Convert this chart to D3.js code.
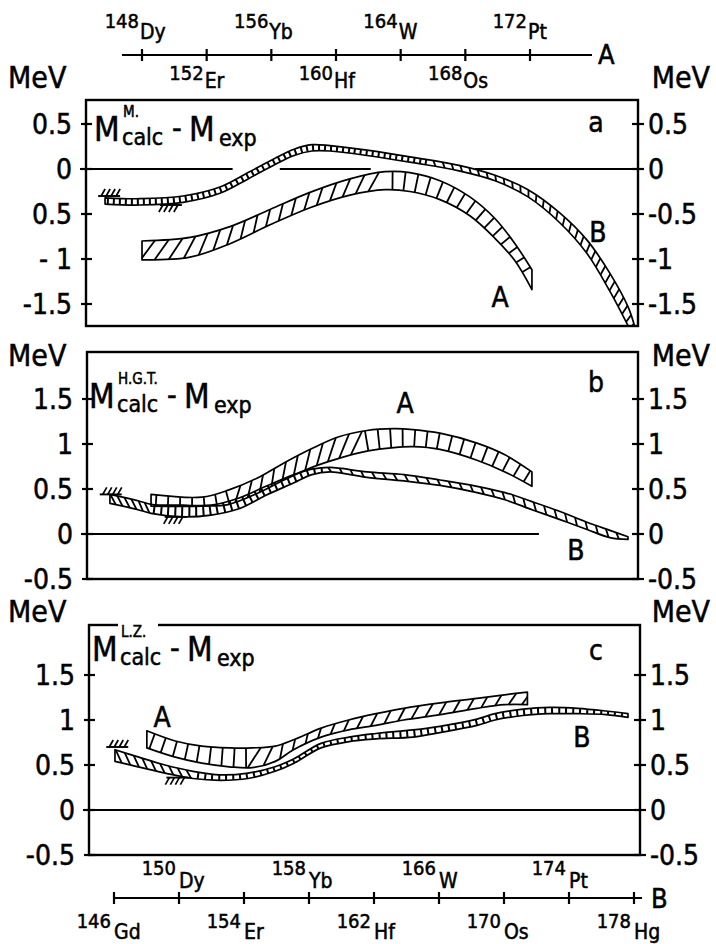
<!DOCTYPE html>
<html>
<head>
<meta charset="utf-8">
<script src="https://cdn.jsdelivr.net/npm/d3@7"></script>
<style>
  html, body { margin: 0; padding: 0; background: #fff; }
  svg text { font-family: "DejaVu Sans Condensed", "DejaVu Sans", sans-serif; fill: #000; stroke: #000; stroke-width: 0.5px; }
</style>
</head>
<body>
<svg id="chart" width="716" height="944"></svg>
<script>
// ---- isotope chains used as the two horizontal scales ----
const chainA = [148, 152, 156, 160, 164, 168, 172];
const chainAEl = ["Dy", "Er", "Yb", "Hf", "W", "Os", "Pt"];
const chainB = [146, 150, 154, 158, 162, 166, 170, 174, 178];
const chainBEl = ["Gd", "Dy", "Er", "Yb", "Hf", "W", "Os", "Pt", "Hg"];

// ---- MeV ticks and printed labels ----
const ticksA = [0.5, 0, -0.5, -1, -1.5];
const ticksALeft = ["0.5", "0", "0.5", "- 1", "-1.5"];
const ticksARight = ["0.5", "0", "-0.5", "-1", "-1.5"];
const ticksBC = [1.5, 1, 0.5, 0, -0.5];
const ticksBLeft = ["1.5", "1", "0.5", "0", "-0.5"];
const ticksCLeft = ["1.5", "1", "0.5", "0", "-0.5"];
const ticksBCRight = ["1.5", "1", "0.5", "0", "-0.5"];

// ---- panel a (M.) : band A on chain A, band B on chain B ----
const aA_mass = [148.0, 150.97, 153.44, 155.92, 158.39, 160.86, 163.03, 164.57, 166.43, 168.28, 169.83, 171.07, 172.12];
const aA_hi   = [-0.80, -0.76, -0.64, -0.45, -0.26, -0.11, -0.03, -0.04, -0.13, -0.31, -0.55, -0.83, -1.12];
const aA_lo   = [-1.01, -0.98, -0.83, -0.62, -0.43, -0.29, -0.23, -0.25, -0.34, -0.52, -0.77, -1.02, -1.34];
const aB_mass = [145.45, 147.6, 150.25, 152.52, 154.25, 155.91, 157.08, 158.18, 159.29, 161.57, 164.40, 167.23, 169.45, 171.48, 173.45, 175.11, 176.52, 177.63, 178.06];
const aB_hi   = [-0.32, -0.33, -0.30, -0.20, -0.04, 0.12, 0.22, 0.27, 0.26, 0.21, 0.13, 0.04, -0.07, -0.23, -0.49, -0.79, -1.16, -1.53, -1.76];
const aB_lo   = [-0.39, -0.40, -0.37, -0.27, -0.11, 0.05, 0.15, 0.20, 0.20, 0.15, 0.07, -0.02, -0.13, -0.31, -0.60, -0.94, -1.36, -1.74, -1.90];

// ---- panel b (H.G.T.) ----
const bA_mass = [148.56, 151.71, 153.38, 155.11, 156.78, 158.51, 160.18, 161.91, 163.58, 164.76, 166.43, 168.72, 170.45, 172.12];
const bA_hi   = [0.44, 0.41, 0.49, 0.62, 0.79, 0.95, 1.08, 1.15, 1.17, 1.16, 1.12, 1.01, 0.88, 0.69];
const bA_lo   = [0.31, 0.31, 0.33, 0.45, 0.60, 0.74, 0.84, 0.92, 0.96, 0.97, 0.94, 0.82, 0.69, 0.53];
const bB_mass = [145.75, 147.48, 148.28, 150.25, 151.97, 153.69, 155.35, 157.08, 158.18, 159.29, 161.57, 163.85, 166.06, 168.34, 170.06, 171.72, 173.45, 175.11, 176.52, 177.63];
const bB_hi   = [0.44, 0.37, 0.33, 0.32, 0.32, 0.40, 0.53, 0.66, 0.72, 0.74, 0.69, 0.66, 0.60, 0.53, 0.46, 0.36, 0.25, 0.13, 0.04, -0.03];
const bB_lo   = [0.34, 0.27, 0.23, 0.19, 0.21, 0.28, 0.43, 0.57, 0.66, 0.69, 0.63, 0.59, 0.54, 0.46, 0.38, 0.27, 0.16, 0.05, -0.04, -0.06];

// ---- panel c (L.Z.) ----
const cA_mass = [148.30, 150.00, 151.70, 153.40, 154.82, 156.24, 157.37, 159.08, 160.78, 162.48, 164.18, 166.45, 168.72, 170.42, 171.84];
const cA_hi   = [0.88, 0.77, 0.71, 0.69, 0.69, 0.71, 0.78, 0.91, 1.00, 1.07, 1.13, 1.19, 1.24, 1.28, 1.31];
const cA_lo   = [0.69, 0.59, 0.52, 0.48, 0.47, 0.54, 0.67, 0.81, 0.89, 0.94, 1.00, 1.06, 1.13, 1.17, 1.17];
const cB_mass = [146.06, 147.48, 149.14, 150.86, 152.52, 154.25, 155.91, 157.08, 158.74, 160.46, 162.12, 164.40, 166.06, 168.34, 169.45, 171.17, 172.83, 174.55, 176.28, 177.63];
const cB_hi   = [0.67, 0.59, 0.50, 0.43, 0.39, 0.41, 0.48, 0.57, 0.74, 0.81, 0.85, 0.89, 0.93, 1.01, 1.07, 1.12, 1.14, 1.13, 1.10, 1.07];
const cB_lo   = [0.54, 0.48, 0.41, 0.35, 0.33, 0.35, 0.43, 0.52, 0.69, 0.76, 0.79, 0.81, 0.86, 0.94, 1.00, 1.05, 1.07, 1.07, 1.06, 1.03];

// hatched limit markers: [mass on chain B, MeV, side(-1 above / +1 below)]
const aMarks = [[145.7, -0.30, -1], [149.5, -0.40, 1]];
const bMarks = [[145.8, 0.44, -1], [149.8, 0.19, 1]];
const cMarks = [[146.2, 0.70, -1], [149.9, 0.36, 1]];

// gaps in the zero line of panel a (chain-B mass ranges)
const aZeroGaps = [[153.3, 156.2], [161.8, 168.2]];
const bZeroEnd = 172.15;

// ------------------------------------------------------------------
const svg = d3.select("#chart");
const xA = d3.scaleLinear().domain([148, 172]).range([142, 530]);
const xB = d3.scaleLinear().domain([146, 178]).range([114, 634]);
const tmp = svg.append("g").attr("visibility", "hidden");
const curve = d3.curveCatmullRom.alpha(0.5);
const INK = "#000";

function samplePath(d) {
  const p = tmp.append("path").attr("d", d);
  const n = p.node(), L = n.getTotalLength(), pts = [];
  for (let s = 0; s <= L; s += 0.7) { const q = n.getPointAtLength(s); pts.push([q.x, q.y]); }
  const q = n.getPointAtLength(L); pts.push([q.x, q.y]);
  p.remove();
  return pts;
}
function yAt(pts, x) {
  for (let i = 1; i < pts.length; i++) {
    const a = pts[i - 1], b = pts[i];
    if ((a[0] - x) * (b[0] - x) <= 0) {
      if (b[0] === a[0]) return a[1];
      return a[1] + (b[1] - a[1]) * (x - a[0]) / (b[0] - a[0]);
    }
  }
  return null;
}

let clipId = 0;
function band(g, xs, mass, hi, lo, y, hatches) {
  const rows = mass.map((m, i) => ({ m, hi: hi[i], lo: lo[i] }));
  const area = d3.area().x(d => xs(d.m)).y0(d => y(d.lo)).y1(d => y(d.hi)).curve(curve);
  const lineHi = d3.line().x(d => xs(d.m)).y(d => y(d.hi)).curve(curve);
  const lineLo = d3.line().x(d => xs(d.m)).y(d => y(d.lo)).curve(curve);
  const up = samplePath(lineHi(rows)), dn = samplePath(lineLo(rows));
  const id = "band" + (clipId++);
  svg.append("clipPath").attr("id", id).append("path").attr("d", area(rows));
  const hg = g.append("g").attr("clip-path", `url(#${id})`);
  hatches.forEach(h => {
    const x0 = xs(h.from), x1 = xs(h.to);
    const cs = [];
    for (let x = x0; x <= x1; x += 0.4) {
      const yu = yAt(up, x), yl = yAt(dn, x);
      if (yu == null || yl == null) continue;
      cs.push([x, (yu + yl) / 2, Math.abs(yl - yu)]);
    }
    let acc = h.spacing * 0.6;
    for (let i = 1; i < cs.length - 1; i++) {
      acc += Math.hypot(cs[i][0] - cs[i - 1][0], cs[i][1] - cs[i - 1][1]);
      if (acc < h.spacing) continue;
      acc -= h.spacing;
      let tx = cs[i + 1][0] - cs[i - 1][0], ty = cs[i + 1][1] - cs[i - 1][1];
      const tl = Math.hypot(tx, ty); tx /= tl; ty /= tl;
      const nx = ty, ny = -tx;               // normal pointing up
      const ph = h.tilt * Math.PI / 180;
      const dx = nx * Math.cos(ph) - ny * Math.sin(ph);
      const dy = nx * Math.sin(ph) + ny * Math.cos(ph);
      const half = cs[i][2] / Math.max(Math.cos(ph), 0.35) + 3;
      hg.append("line")
        .attr("x1", cs[i][0] - dx * half).attr("y1", cs[i][1] - dy * half)
        .attr("x2", cs[i][0] + dx * half).attr("y2", cs[i][1] + dy * half)
        .attr("stroke", INK).attr("stroke-width", h.width || 1.8);
    }
  });
  g.append("path").attr("d", area(rows)).attr("fill", "none")
    .attr("stroke", INK).attr("stroke-width", 1.7).attr("stroke-linejoin", "round");
}

function limitMark(g, x, y, side) {
  g.append("line").attr("x1", x - 11).attr("x2", x + 11).attr("y1", y).attr("y2", y)
    .attr("stroke", INK).attr("stroke-width", 1.9);
  for (let k = 0; k < 4; k++) {
    const sx = x - 8 + k * 5;
    g.append("line").attr("x1", sx).attr("y1", y)
      .attr("x2", sx + (side < 0 ? 4 : -4)).attr("y2", y + side * 7)
      .attr("stroke", INK).attr("stroke-width", 1.7);
  }
}

function title(g, x, base, sup) {
  g.append("text").attr("x", x).attr("y", base).attr("font-size", 33).text("M");
  g.append("text").attr("x", x + 29).attr("y", base - 24).attr("font-size", 15).text(sup);
  g.append("text").attr("x", x + 28).attr("y", base + 4).attr("font-size", 23).text("calc");
  g.append("text").attr("x", x + 78).attr("y", base - 3).attr("font-size", 30).text("-");
  g.append("text").attr("x", x + 95).attr("y", base).attr("font-size", 33).text("M");
  g.append("text").attr("x", x + 125).attr("y", base + 5).attr("font-size", 23).text("exp");
}

// ---- panels ----
const panels = [
  { key: "a", top: 100, bottom: 326, left: 86, right: 638, zeroY: 169,
    ticks: ticksA, leftLab: ticksALeft, rightLab: ticksARight,
    A: [aA_mass, aA_hi, aA_lo], B: [aB_mass, aB_hi, aB_lo], marks: aMarks,
    hatchA: [{ from: 148, to: 163.2, spacing: 14, tilt: 38 }, { from: 163.2, to: 172.2, spacing: 12, tilt: 0 }],
    hatchB: [{ from: 145.4, to: 165.5, spacing: 6, tilt: 0, width: 2 }, { from: 165.5, to: 178.1, spacing: 9, tilt: -30 }],
    sup: "M.", titleX: 94, titleBase: 141, letterY: 132,
    labA: [500, 307], labB: [598, 242], mevY: 88 },
  { key: "b", top: 352, bottom: 579, left: 87, right: 638, zeroY: 534,
    ticks: ticksBC, leftLab: ticksBLeft, rightLab: ticksBCRight,
    A: [bA_mass, bA_hi, bA_lo], B: [bB_mass, bB_hi, bB_lo], marks: bMarks,
    hatchA: [{ from: 148.5, to: 153.6, spacing: 12, tilt: 0 }, { from: 153.6, to: 161.6, spacing: 13, tilt: 38 }, { from: 161.6, to: 172.2, spacing: 12, tilt: 0 }],
    hatchB: [{ from: 145.7, to: 148.3, spacing: 7, tilt: -40 }, { from: 148.3, to: 159, spacing: 7, tilt: 0, width: 2 }, { from: 159, to: 177.7, spacing: 11, tilt: -35 }],
    sup: "H.G.T.", titleX: 89, titleBase: 408, letterY: 392,
    labA: [405, 413], labB: [576, 560], mevY: 366 },
  { key: "c", top: 625, bottom: 855, left: 89, right: 640, zeroY: 810,
    ticks: ticksBC, leftLab: ticksCLeft, rightLab: ticksBCRight,
    A: [cA_mass, cA_hi, cA_lo], B: [cB_mass, cB_hi, cB_lo], marks: cMarks,
    hatchA: [{ from: 148.3, to: 154.6, spacing: 12, tilt: 0 }, { from: 154.6, to: 171.9, spacing: 14, tilt: 38 }],
    hatchB: [{ from: 146.0, to: 151.0, spacing: 9, tilt: -40 }, { from: 151.0, to: 177.7, spacing: 7, tilt: 0, width: 2 }],
    sup: "L.Z.", titleX: 92, titleBase: 661, letterY: 660,
    labA: [162, 727], labB: [582, 747], mevY: 622 }
];

panels.forEach(p => {
  const g = svg.append("g");
  // MeV values of the frame edges follow from the 90 px per MeV spacing
  const y = d3.scaleLinear()
    .domain([(p.zeroY - p.bottom) / 90, (p.zeroY - p.top) / 90])
    .range([p.bottom, p.top]);

  const fid = "frame" + p.key;
  svg.append("clipPath").attr("id", fid).append("rect")
    .attr("x", p.left).attr("y", p.top).attr("width", p.right - p.left).attr("height", p.bottom - p.top);

  // zero line
  if (p.key === "a") {
    const xs0 = [p.left - 6, ...aZeroGaps.flat().map(m => xB(m)), p.right + 4];
    for (let i = 0; i < xs0.length; i += 2)
      g.append("line").attr("x1", xs0[i]).attr("x2", xs0[i + 1]).attr("y1", y(0)).attr("y2", y(0))
        .attr("stroke", INK).attr("stroke-width", 2.2);
  } else if (p.key === "b") {
    g.append("line").attr("x1", p.left - 6).attr("x2", xB(bZeroEnd)).attr("y1", y(0)).attr("y2", y(0))
      .attr("stroke", INK).attr("stroke-width", 2.2);
  } else {
    g.append("line").attr("x1", p.left - 6).attr("x2", p.right + 5).attr("y1", y(0)).attr("y2", y(0))
      .attr("stroke", INK).attr("stroke-width", 2.2);
  }

  const cg = g.append("g").attr("clip-path", `url(#${fid})`);
  band(cg, xB, p.B[0], p.B[1], p.B[2], y, p.hatchB);
  band(cg, xA, p.A[0], p.A[1], p.A[2], y, p.hatchA);
  p.marks.forEach(mk => limitMark(g, xB(mk[0]), y(mk[1]), mk[2]));

  // frame
  g.append("rect").attr("x", p.left).attr("y", p.top).attr("width", p.right - p.left)
    .attr("height", p.bottom - p.top).attr("fill", "none").attr("stroke", INK).attr("stroke-width", 2.4);

  // ticks and labels on both sides
  p.ticks.forEach((t, i) => {
    const ty = y(t);
    g.append("line").attr("x1", p.left - 5).attr("x2", p.left + 6).attr("y1", ty).attr("y2", ty)
      .attr("stroke", INK).attr("stroke-width", 2.2);
    g.append("line").attr("x1", p.right - 6).attr("x2", p.right + 6).attr("y1", ty).attr("y2", ty)
      .attr("stroke", INK).attr("stroke-width", 2.2);
    g.append("text").attr("x", p.left - 14).attr("y", ty).attr("dy", "0.36em")
      .attr("text-anchor", "end").attr("font-size", 28).text(p.leftLab[i]);
    g.append("text").attr("x", p.right + 10).attr("y", ty).attr("dy", "0.36em")
      .attr("font-size", 28).text(p.rightLab[i]);
  });

  g.append("text").attr("x", 8).attr("y", p.mevY).attr("font-size", 30).text("MeV");
  g.append("text").attr("x", 710).attr("y", p.mevY).attr("text-anchor", "end").attr("font-size", 30).text("MeV");

  // title with white gap where it crosses the frame
  if (p.key === "c") {
    g.append("rect").attr("x", p.titleX + 26).attr("y", p.top - 5).attr("width", 40).attr("height", 10).attr("fill", "#fff");
  }
  title(g, p.titleX, p.titleBase, p.sup);
  g.append("text").attr("x", 596).attr("y", p.letterY).attr("text-anchor", "middle").attr("font-size", 28).text(p.key);
  g.append("text").attr("x", p.labA[0]).attr("y", p.labA[1]).attr("text-anchor", "middle").attr("font-size", 28).text("A");
  g.append("text").attr("x", p.labB[0]).attr("y", p.labB[1]).attr("text-anchor", "middle").attr("font-size", 28).text("B");
});

// ---- top axis: chain A ----
const topY = 55;
const ta = svg.append("g");
ta.append("line").attr("x1", 122).attr("x2", 592).attr("y1", topY).attr("y2", topY).attr("stroke", INK).attr("stroke-width", 2.2);
chainA.forEach((m, i) => {
  const x = xA(m);
  ta.append("line").attr("x1", x).attr("x2", x).attr("y1", topY - 6).attr("y2", topY + 6).attr("stroke", INK).attr("stroke-width", 2.2);
  const above = i % 2 === 0;
  const nb = above ? 28 : 80, eb = above ? 39 : 88;
  ta.append("text").attr("x", x - 3).attr("y", nb).attr("text-anchor", "end").attr("font-size", 20).text(m);
  ta.append("text").attr("x", x - 2).attr("y", eb).attr("font-size", 21).text(chainAEl[i]);
});
ta.append("text").attr("x", 598).attr("y", 64).attr("font-size", 27).text("A");

// ---- bottom axis: chain B ----
const botY = 898;
const tb = svg.append("g");
tb.append("line").attr("x1", xB(146)).attr("x2", xB(178) + 8).attr("y1", botY).attr("y2", botY).attr("stroke", INK).attr("stroke-width", 2.2);
chainB.forEach((m, i) => {
  const x = xB(m);
  tb.append("line").attr("x1", x).attr("x2", x).attr("y1", botY - 6).attr("y2", botY + 6).attr("stroke", INK).attr("stroke-width", 2.2);
  const below = i % 2 === 0;
  const nb = below ? 928 : 875, eb = below ? 939 : 888;
  tb.append("text").attr("x", x - 3).attr("y", nb).attr("text-anchor", "end").attr("font-size", 20).text(m);
  tb.append("text").attr("x", x).attr("y", eb).attr("font-size", 21).text(chainBEl[i]);
});
tb.append("text").attr("x", 651).attr("y", 908).attr("font-size", 27).text("B");

tmp.remove();
</script>
</body>
</html>
